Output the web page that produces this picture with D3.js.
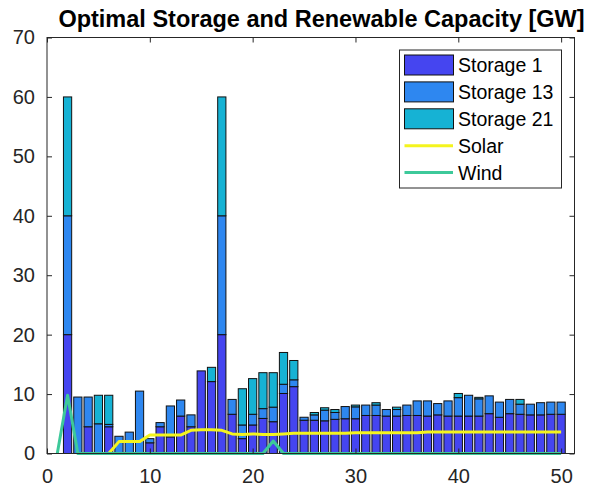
<!DOCTYPE html>
<html>
<head>
<meta charset="utf-8">
<script src="https://cdn.jsdelivr.net/npm/d3@7"></script>
<style>
  html, body { margin: 0; padding: 0; background: #fff; }
  svg { display: block; }
</style>
</head>
<body>
<svg id="chart" width="589" height="490"></svg>
<script>
// Hour / node index along the x axis
const positions = d3.range(1, 51);

// Optimal storage capacity per location [GW], stacked by storage unit
const storage1 = [
  0, 20, 0, 4.5, 0, 4.5, 0, 0, 0, 1.8,
  4.5, 2.8, 6.3, 4.5, 13.9, 12.1, 20, 6.6, 2.5, 4.8,
  5.9, 5.35, 10.1, 11.25, 5.6, 5.6, 5.5, 5.75, 5.85, 5.85,
  6.4, 6.4, 6.3, 6.3, 6.4, 6.4, 6.3, 6.5, 6.3, 6.3,
  6.3, 6.3, 6.7, 6.1, 6.7, 6.6, 6.5, 6.5, 6.6, 6.6
];
const storage13 = [
  0, 20, 9.5, 5.0, 5.0, 0.4, 2.9, 3.6, 10.5, 0.7,
  0.7, 5.2, 2.7, 2.0, 0, 0, 20, 2.5, 2.3, 1.8,
  1.65, 2.45, 1.55, 1.15, 0.5, 0.9, 1.8, 1.15, 2.05, 2.0,
  1.75, 1.75, 1.1, 1.1, 1.75, 2.45, 2.55, 1.9, 2.55, 3.1,
  3.5, 2.9, 3.0, 2.55, 2.4, 1.7, 1.8, 2.05, 2.05, 2.05
];
const storage21 = [
  0, 20, 0, 0, 4.8, 4.9, 0, 0, 0, 0,
  0, 0, 0, 0, 0, 2.4, 20, 0, 6.1, 6.0,
  6.05, 5.8, 5.35, 3.25, 0, 0.4, 0.4, 0.5, 0, 0.3,
  0, 0.4, 0, 0.4, 0, 0, 0, 0, 0, 0.7,
  0, 0.25, 0, 0, 0, 0.8, 0, 0, 0, 0
];

// Optimal renewable capacity [GW]
const solarX = d3.range(6, 51);
const solar = [
  0, 2.0, 2.0, 2.0, 3.1, 3.1, 3.1, 3.1, 3.9, 4.0,
  4.0, 3.9, 3.3, 3.2, 3.3, 3.2, 3.2, 3.3, 3.4, 3.4,
  3.4, 3.4, 3.4, 3.4, 3.5, 3.5, 3.5, 3.5, 3.5, 3.5,
  3.5, 3.6, 3.6, 3.6, 3.6, 3.6, 3.6, 3.6, 3.6, 3.6,
  3.6, 3.6, 3.6, 3.6, 3.6
];
const windX = d3.range(1, 51);
const wind = [
  0, 9.8, 0, 0, 0, 0, 0, 0, 0, 0,
  0, 0, 0, 0, 0, 0, 0, 0, 0, 0,
  0, 2.1, 0, 0, 0, 0, 0, 0, 0, 0,
  0, 0, 0, 0, 0, 0, 0, 0, 0, 0,
  0, 0, 0, 0, 0, 0, 0, 0, 0, 0
];

const seriesNames = ["Storage 1", "Storage 13", "Storage 21"];
const xTicks = [0, 10, 20, 30, 40, 50];
const yTicks = [0, 10, 20, 30, 40, 50, 60, 70];
const titleText = "Optimal Storage and Renewable Capacity [GW]";

const colors = {
  "Storage 1": "#4545F0",
  "Storage 13": "#2E87F0",
  "Storage 21": "#16B2D4",
  "Solar": "#F4F41E",
  "Wind": "#3DC99A"
};

const svg = d3.select("#chart");
const font = "'Liberation Sans', Arial, Helvetica, sans-serif";
const axisColor = "#262626";

const plot = { left: 47, right: 574.5, top: 37.5, bottom: 453.5 };

const x = d3.scaleLinear().domain([0, 51.3]).range([plot.left, plot.right]);
const y = d3.scaleLinear().domain([0, 70]).range([plot.bottom, plot.top]);

const rows = positions.map((p, i) => ({
  pos: p,
  "Storage 1": storage1[i],
  "Storage 13": storage13[i],
  "Storage 21": storage21[i]
}));
const stacked = d3.stack().keys(seriesNames)(rows);

const barW = x(0.8) - x(0);

// Stacked bars
const gBars = svg.append("g");
stacked.forEach(layer => {
  gBars.selectAll(null)
    .data(layer.filter(d => d[1] - d[0] > 0))
    .enter().append("rect")
    .attr("x", d => x(d.data.pos) - barW / 2)
    .attr("y", d => y(d[1]))
    .attr("width", barW)
    .attr("height", d => y(d[0]) - y(d[1]))
    .attr("fill", colors[layer.key])
    .attr("stroke", "#111")
    .attr("stroke-width", 1);
});

// Renewable lines
const line = d3.line().x(d => x(d[0])).y(d => y(d[1]));
svg.append("path")
  .datum(solarX.map((p, i) => [p, solar[i]]))
  .attr("d", line)
  .attr("fill", "none")
  .attr("stroke", colors["Solar"])
  .attr("stroke-width", 3)
  .attr("stroke-linejoin", "round");
svg.append("path")
  .datum(windX.map((p, i) => [p, wind[i]]))
  .attr("d", line)
  .attr("fill", "none")
  .attr("stroke", colors["Wind"])
  .attr("stroke-width", 3)
  .attr("stroke-linejoin", "round");

// Axes with inward ticks, boxed frame
const tickLen = 5;
const gAx = svg.append("g").attr("font-family", font);

gAx.append("rect")
  .attr("x", plot.left).attr("y", plot.top)
  .attr("width", plot.right - plot.left).attr("height", plot.bottom - plot.top)
  .attr("fill", "none").attr("stroke", axisColor).attr("stroke-width", 1);

const bottomAxis = d3.axisBottom(x).tickValues(xTicks).tickSizeInner(-tickLen).tickSizeOuter(0).tickPadding(15);
const leftAxis = d3.axisLeft(y).tickValues(yTicks).tickSizeInner(-tickLen).tickSizeOuter(0).tickPadding(12);
const topAxis = d3.axisTop(x).tickValues(xTicks).tickSizeInner(-tickLen).tickSizeOuter(0).tickFormat("");
const rightAxis = d3.axisRight(y).tickValues(yTicks).tickSizeInner(-tickLen).tickSizeOuter(0).tickFormat("");

function styleAxis(g) {
  g.select(".domain").remove();
  g.selectAll("line").attr("stroke", axisColor);
  g.selectAll("text").attr("fill", axisColor).attr("font-size", 20).attr("font-family", font);
}

gAx.append("g").attr("transform", `translate(0,${plot.bottom})`).call(bottomAxis).call(styleAxis);
gAx.append("g").attr("transform", `translate(${plot.left},0)`).call(leftAxis).call(styleAxis);
gAx.append("g").attr("transform", `translate(0,${plot.top})`).call(topAxis).call(styleAxis);
gAx.append("g").attr("transform", `translate(${plot.right},0)`).call(rightAxis).call(styleAxis);

// Title
svg.append("text")
  .attr("x", 321.5)
  .attr("y", 27)
  .attr("text-anchor", "middle")
  .attr("font-family", font)
  .attr("font-weight", "bold")
  .attr("font-size", 23.5)
  .attr("fill", "#000")
  .text(titleText);

// Legend
const legend = svg.append("g").attr("font-family", font);
const lg = { x: 399.5, y: 50, w: 162, h: 138 };
legend.append("rect")
  .attr("x", lg.x).attr("y", lg.y).attr("width", lg.w).attr("height", lg.h)
  .attr("fill", "#fff").attr("stroke", axisColor).attr("stroke-width", 1);

const legendItems = [
  { name: "Storage 1", type: "patch" },
  { name: "Storage 13", type: "patch" },
  { name: "Storage 21", type: "patch" },
  { name: "Solar", type: "line" },
  { name: "Wind", type: "line" }
];
legendItems.forEach((item, i) => {
  const cy = 65 + i * 26.9;
  if (item.type === "patch") {
    legend.append("rect")
      .attr("x", 404.5).attr("y", cy - 10)
      .attr("width", 49).attr("height", 20)
      .attr("fill", colors[item.name])
      .attr("stroke", "#111").attr("stroke-width", 1);
  } else {
    legend.append("line")
      .attr("x1", 404.5).attr("x2", 453)
      .attr("y1", cy).attr("y2", cy)
      .attr("stroke", colors[item.name]).attr("stroke-width", 3);
  }
  legend.append("text")
    .attr("x", 458).attr("y", cy + 7)
    .attr("font-size", 19.5)
    .attr("fill", "#000")
    .text(item.name);
});
</script>
</body>
</html>
